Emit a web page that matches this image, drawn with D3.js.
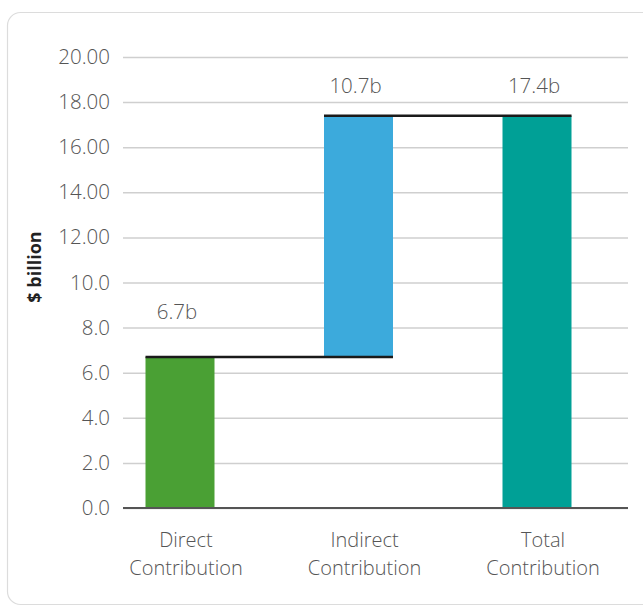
<!DOCTYPE html>
<html>
<head>
<meta charset="utf-8">
<script src="https://cdn.jsdelivr.net/npm/d3@7"></script>
<style>
  html, body { margin: 0; padding: 0; background: #fff; }
  svg { display: block; font-family: "Open Sans", "Noto Sans", sans-serif; }
</style>
</head>
<body>
<svg id="chart" width="643" height="607"></svg>
<script>
// Waterfall of economic contribution, $ billion
const categories = [["Direct", "Contribution"], ["Indirect", "Contribution"], ["Total", "Contribution"]];
const steps = [6.7, 10.7, 17.4];          // labelled amount of each bar
const isTotal = [false, false, true];
const valueLabels = ["6.7b", "10.7b", "17.4b"];
const tickValues = [0, 2, 4, 6, 8, 10, 12, 14, 16, 18, 20];
const tickLabels = ["0.0", "2.0", "4.0", "6.0", "8.0", "10.0", "12.00", "14.00", "16.00", "18.00", "20.00"];
const colors = ["#4aa034", "#3caadc", "#00a096"];

const svg = d3.select("#chart");
const FONT = '"Open Sans", "Noto Sans", sans-serif';

// card outline
svg.append("rect")
  .attr("x", 7.5).attr("y", 12.5)
  .attr("width", 660).attr("height", 592)
  .attr("rx", 13)
  .attr("fill", "#fff").attr("stroke", "#dcdcdc").attr("stroke-width", 1.2);

const plot = { left: 123, right: 628, top: 57, bottom: 508 };

const y = d3.scaleLinear().domain([0, 20]).range([plot.bottom, plot.top]);
const x = d3.scalePoint().domain(d3.range(categories.length)).range([180, 537]);
const barW = 69;

// running base/top for each bar
let running = 0;
const bars = steps.map((v, i) => {
  let b0, b1;
  if (isTotal[i]) { b0 = 0; b1 = v; running = v; }
  else { b0 = running; b1 = running + v; running = b1; }
  return { i, b0, b1 };
});

// horizontal gridlines + tick labels via axis
const yAxis = d3.axisLeft(y)
  .tickValues(tickValues)
  .tickFormat((d, i) => tickLabels[i])
  .tickSize(-(plot.right - plot.left))
  .tickPadding(13);

const gy = svg.append("g")
  .attr("transform", `translate(${plot.left},0)`)
  .call(yAxis)
  .attr("font-family", FONT);
gy.select(".domain").remove();
gy.selectAll(".tick line").attr("stroke", "#cfcfcf").attr("stroke-width", 1.5);
gy.selectAll(".tick text")
  .attr("fill", "#555")
  .style("font-family", FONT)
  .style("font-size", "20.5px")
  .style("font-weight", 300);

// y axis title
svg.append("text")
  .attr("transform", "translate(41,267) rotate(-90)")
  .attr("text-anchor", "middle")
  .attr("fill", "#222")
  .style("font-size", "18px")
  .style("font-weight", 700)
  .text("$ billion");

// bars
svg.append("g").selectAll("rect")
  .data(bars)
  .join("rect")
  .attr("x", d => x(d.i) - barW / 2)
  .attr("width", barW)
  .attr("y", d => y(d.b1))
  .attr("height", d => y(d.b0) - y(d.b1))
  .attr("fill", d => colors[d.i]);

// connectors between consecutive bars
const conn = svg.append("g");
for (let i = 0; i < bars.length - 1; i++) {
  conn.append("line")
    .attr("x1", x(i) - barW / 2)
    .attr("x2", x(i + 1) + barW / 2)
    .attr("y1", y(bars[i].b1))
    .attr("y2", y(bars[i].b1))
    .attr("stroke", "#1a1a1a")
    .attr("stroke-width", 2.5);
}

// x axis baseline
svg.append("line")
  .attr("x1", plot.left).attr("x2", plot.right)
  .attr("y1", y(0)).attr("y2", y(0))
  .attr("stroke", "#555").attr("stroke-width", 2);

// value labels sit just above the next gridline over each bar
svg.append("g").selectAll("text")
  .data(bars)
  .join("text")
  .attr("x", d => x(d.i) - 3)
  .attr("y", d => y(Math.ceil(d.b1 / 2) * 2) - 9)
  .attr("text-anchor", "middle")
  .attr("fill", "#555")
  .style("font-size", "20.5px")
  .style("font-weight", 300)
  .text(d => valueLabels[d.i]);

// category labels, two lines each
const cat = svg.append("g").selectAll("text")
  .data(categories)
  .join("text")
  .attr("text-anchor", "middle")
  .attr("fill", "#555")
  .style("font-size", "20px")
  .style("font-weight", 300);
cat.each(function (lines, i) {
  const t = d3.select(this);
  lines.forEach((ln, k) => {
    t.append("tspan")
      .attr("x", x(i) + 6)
      .attr("y", y(0) + 39 + k * 28)
      .text(ln);
  });
});
</script>
</body>
</html>
